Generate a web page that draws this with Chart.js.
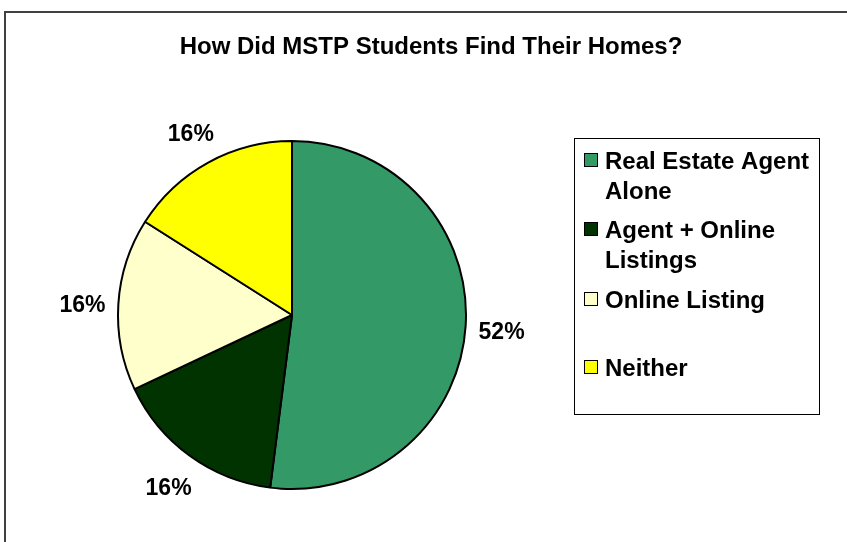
<!DOCTYPE html>
<html>
<head>
<meta charset="utf-8">
<script src="https://cdn.jsdelivr.net/npm/chart.js@4.4.1/dist/chart.umd.min.js"></script>
<style>
  html, body { margin: 0; padding: 0; background: #fff; }
  #wrap { width: 847px; height: 542px; position: relative; }
</style>
</head>
<body>
<div id="wrap"><canvas id="pie" width="847" height="542"></canvas></div>
<script>
// chart data
const chartTitle = 'How Did MSTP Students Find Their Homes?';
const categories = ['Real Estate Agent Alone', 'Agent + Online Listings', 'Online Listing', 'Neither'];
const legendLines = [['Real Estate Agent', 'Alone'], ['Agent + Online', 'Listings'], ['Online Listing'], ['Neither']];
const shares = [52, 16, 16, 16];
const sliceColors = ['#339966', '#003300', '#FFFFCC', '#FFFF00'];

const FONT = 'Arial, "Liberation Sans", sans-serif';

// frame, title, outside percent labels and the boxed legend
const decorPlugin = {
    id: 'decor',
    afterDraw(chart) {
        const ctx = chart.ctx;
        ctx.save();

        // outer frame (only top and left edges are visible)
        ctx.strokeStyle = '#404040';
        ctx.lineWidth = 2;
        ctx.beginPath();
        ctx.moveTo(5, 542);
        ctx.lineTo(5, 12);
        ctx.lineTo(847, 12);
        ctx.stroke();

        // title
        ctx.fillStyle = '#000';
        ctx.font = 'bold 24px ' + FONT;
        ctx.textAlign = 'center';
        ctx.textBaseline = 'middle';
        ctx.fillText(chartTitle, 431, 47);

        // percent labels outside each slice
        const meta = chart.getDatasetMeta(0);
        const total = shares.reduce((a, b) => a + b, 0);
        ctx.font = 'bold 23px ' + FONT;
        meta.data.forEach((arc, i) => {
            const mid = (arc.startAngle + arc.endAngle) / 2;
            const r = arc.outerRadius + 36;
            const x = arc.x + Math.cos(mid) * r;
            const y = arc.y + Math.sin(mid) * r + 4;
            ctx.fillText(Math.round(shares[i] / total * 100) + '%', x, y);
        });

        // legend box
        ctx.strokeStyle = '#000';
        ctx.lineWidth = 1;
        ctx.strokeRect(574.5, 138.5, 245, 276);

        const itemTops = [153, 222, 292, 360];
        ctx.textAlign = 'left';
        ctx.textBaseline = 'alphabetic';
        ctx.font = 'bold 24px ' + FONT;
        categories.forEach((c, i) => {
            const y0 = itemTops[i];
            ctx.fillStyle = sliceColors[i];
            ctx.fillRect(584, y0, 13, 13);
            ctx.strokeStyle = '#000';
            ctx.strokeRect(584.5, y0 + 0.5, 13, 13);
            ctx.fillStyle = '#000';
            legendLines[i].forEach((line, j) => {
                ctx.fillText(line, 605, y0 + 16 + j * 30);
            });
        });

        ctx.restore();
    }
};

new Chart(document.getElementById('pie'), {
    type: 'pie',
    data: {
        labels: categories,
        datasets: [{
            data: shares,
            backgroundColor: sliceColors,
            borderColor: '#000',
            borderWidth: 2
        }]
    },
    options: {
        responsive: false,
        animation: false,
        layout: { padding: { left: 117, right: 380, top: 140, bottom: 52 } },
        plugins: {
            legend: { display: false },
            tooltip: { enabled: false },
            title: { display: false }
        }
    },
    plugins: [decorPlugin]
});
</script>
</body>
</html>
